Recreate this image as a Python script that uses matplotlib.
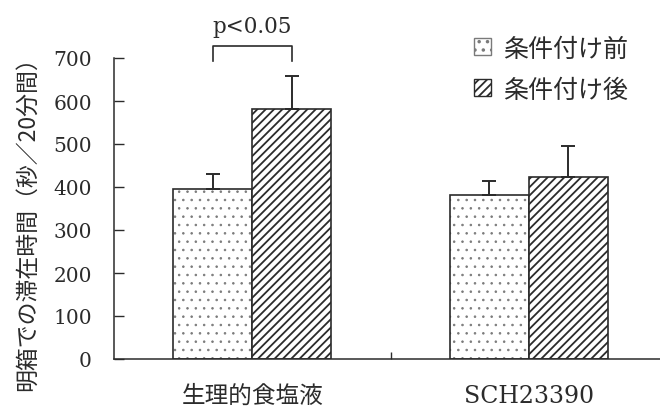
import numpy as np
import matplotlib.pyplot as plt
from matplotlib.patches import Patch

plt.rcParams['font.family'] = ['Noto Sans CJK JP', 'DejaVu Sans']
plt.rcParams['hatch.linewidth'] = 1.3

# data
groups = ['生理的食塩液', 'SCH23390']
before = [395, 381]
before_err = [35, 33]
after = [581, 423]
after_err = [77, 72]
series_names = ['条件付け前', '条件付け後']
yticks = [0, 100, 200, 300, 400, 500, 600, 700]

ink = '#2b2b2b'
dots = '#7a7a7a'
serif = 'DejaVu Serif'

fig = plt.figure(figsize=(6.6, 4.1), dpi=100)
ax = fig.add_axes([114/660, 50/410, 553/660, 301/410])

x = np.arange(len(groups))
w = 0.285

# dotted bars: fine grey dots, dark outline drawn on top
with plt.rc_context({'hatch.linewidth': 0.6}):
    ax.bar(x - w/2, before, w, color='white', edgecolor=dots, hatch='..', linewidth=0)
    dot_handle = Patch(facecolor='white', edgecolor=dots, hatch='..', linewidth=1)
ax.bar(x - w/2, before, w, color='none', edgecolor=ink, linewidth=1.2)
ax.bar(x + w/2, after, w, color='white', edgecolor=ink, hatch='////', linewidth=1.2)

# one-sided error bars
ax.errorbar(x - w/2, before, yerr=[np.zeros(2), before_err], fmt='none',
            ecolor=ink, elinewidth=1.4, capsize=5, capthick=1.4)
ax.errorbar(x + w/2, after, yerr=[np.zeros(2), after_err], fmt='none',
            ecolor=ink, elinewidth=1.4, capsize=5, capthick=1.4)

ax.set_xlim(-0.5, 1.5)
ax.set_ylim(0, 700)

for s in ['top', 'right']:
    ax.spines[s].set_visible(False)
for s in ['left', 'bottom']:
    ax.spines[s].set_color(ink)
    ax.spines[s].set_linewidth(1.1)

ax.set_yticks(yticks)
ax.set_yticklabels([str(v) for v in yticks], family=serif, fontsize=14.5, color=ink)
ax.tick_params(axis='y', direction='in', length=7, width=1, color=ink, pad=16)

ax.set_xticks(x)
ax.set_xticklabels(groups, fontsize=17, color=ink)
ax.get_xticklabels()[1].set_family(serif)
ax.tick_params(axis='x', which='major', length=0, pad=18)
ax.set_xticks([0.5], minor=True)
ax.tick_params(axis='x', which='minor', direction='in', length=5, width=1, color=ink)

fig.text(27/660, 1 - 218/410, '明箱での滞在時間（秒／20分間）', rotation=90,
         ha='center', va='center', fontsize=16.5, color=ink)

# significance bracket
bx0, bx1 = x[0] - w/2, x[0] + w/2
ax.plot([bx0, bx0, bx1, bx1], [692, 728, 728, 694], color=ink, lw=1.2, clip_on=False)
ax.text(x[0], 750, 'p<0.05', ha='center', va='bottom', family=serif,
        fontsize=15.5, color=ink)

handles = [dot_handle,
           Patch(facecolor='white', edgecolor=ink, hatch='////', linewidth=1)]
leg = ax.legend(handles, series_names, loc='upper left', bbox_to_anchor=(462/660, 1 - 24/410),
                bbox_transform=fig.transFigure, frameon=False, fontsize=18,
                handlelength=0.65, handleheight=0.65, handletextpad=0.5, labelspacing=0.6,
                borderpad=0)
for t in leg.get_texts():
    t.set_color(ink)

fig.savefig('out.png', dpi=100)
